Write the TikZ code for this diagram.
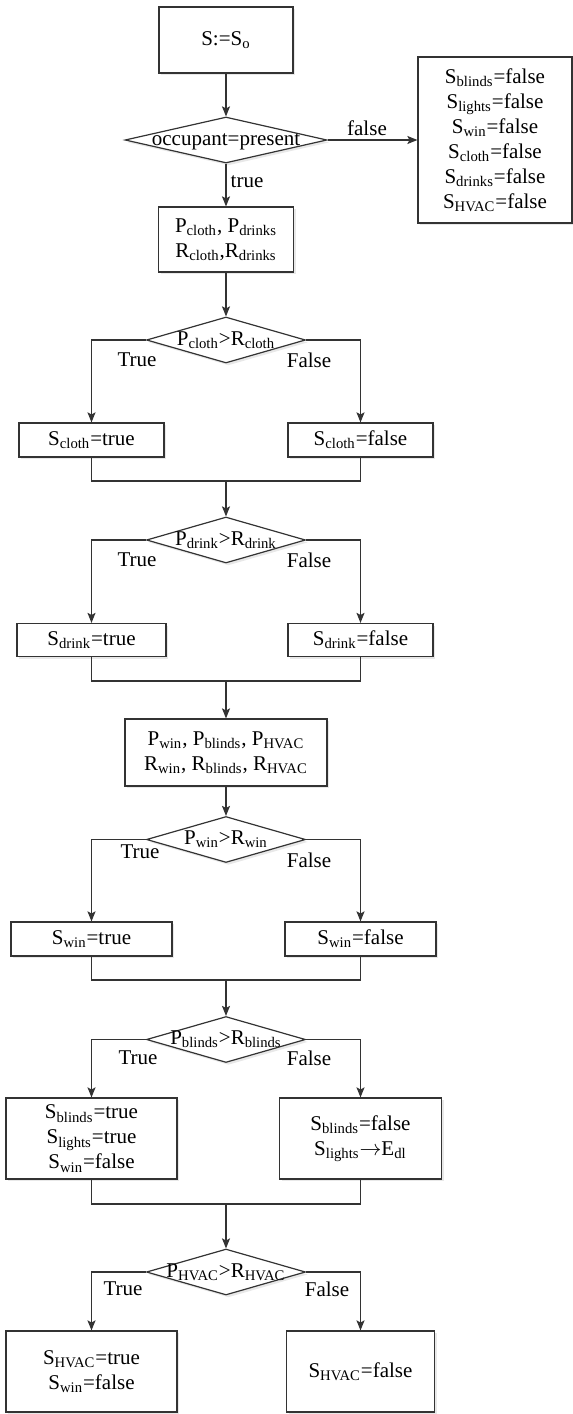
\documentclass[tikz,border=0pt]{standalone}
\usepackage{fontspec}
\setmainfont{Liberation Serif}
\usetikzlibrary{arrows.meta,shapes.geometric,shadows}
\newcommand{\sbs}[1]{\textsubscript{#1}}
\tikzset{
 link/.style={draw=black!80,line width=0.6pt},
 proc/.style={draw=black!80,line width=0.6pt,fill=white,inner sep=0pt,align=center,
  drop shadow={shadow xshift=1.2pt,shadow yshift=-1.2pt,fill=black!18}},
 decide/.style={diamond,draw=black!80,line width=0.6pt,fill=white,inner sep=0pt,
  minimum width=79.5pt,minimum height=23pt,
  drop shadow={shadow xshift=1.2pt,shadow yshift=-1.2pt,fill=black!18}},
 dtxt/.style={inner sep=0pt},
 lbl/.style={inner sep=0pt}
}
\begin{document}
\begin{tikzpicture}[x=0.5pt,y=-0.5pt,>={Stealth[length=5pt,width=4pt,inset=1pt]},
 font=\fontsize{10.5}{12.5}\selectfont]
 \useasboundingbox (0,0) rectangle (573,1414);
 % start and occupancy test
 \node[proc,minimum width=67pt,minimum height=33pt] (start) at (226,40) {S:=S\sbs{o}};
 \node[decide,minimum width=101pt] (occ) at (226,140) {};
 \node[dtxt] (occt) at (226,142) {occupant=present};
 \node[proc,minimum width=77pt,minimum height=83pt] (allf) at (495,140)
  {S\sbs{blinds}=false\\S\sbs{lights}=false\\S\sbs{win}=false\\
   S\sbs{cloth}=false\\S\sbs{drinks}=false\\S\sbs{HVAC}=false};
 \node[proc,minimum width=67.5pt,minimum height=32.5pt] (pcr) at (226,239.5)
  {P\sbs{cloth}, P\sbs{drinks}\\R\sbs{cloth},R\sbs{drinks}};
 \draw[link,->] (start) -- (occ);
 \draw[link,->] (occ) -- (allf);
 \draw[link,->] (occ) -- (pcr);
 \node[lbl] (lf0) at (367,128) {false};
 \node[lbl] (lt0) at (247,182) {true};
 % clothing
 \node[decide] (dcloth) at (226,340) {};
 \node[dtxt] (dclotht) at (226,340) {P\sbs{cloth}>R\sbs{cloth}};
 \node[proc,minimum width=72.5pt,minimum height=17pt] (sct) at (91.5,440) {S\sbs{cloth}=true};
 \node[proc,minimum width=72.5pt,minimum height=17pt] (scf) at (360.5,440) {S\sbs{cloth}=false};
 \coordinate (m1) at (226,481);
 \draw[link,->] (pcr) -- (dcloth);
 \draw[link,->] (dcloth) -| (sct);
 \draw[link,->] (dcloth) -| (scf);
 \draw[link] (sct) |- (m1) -| (scf);
 \node[lbl] (lt1) at (137,360) {True};
 \node[lbl] (lf1) at (309,360) {False};
 % drinks
 \node[decide] (ddrink) at (226,540) {};
 \node[dtxt] (ddrinkt) at (226,540) {P\sbs{drink}>R\sbs{drink}};
 \node[proc,minimum width=74.5pt,minimum height=16.5pt] (sdt) at (91.5,640) {S\sbs{drink}=true};
 \node[proc,minimum width=72.5pt,minimum height=16.5pt] (sdf) at (360.5,640) {S\sbs{drink}=false};
 \coordinate (m2) at (226,681);
 \draw[link,->] (m1) -- (ddrink);
 \draw[link,->] (ddrink) -| (sdt);
 \draw[link,->] (ddrink) -| (sdf);
 \draw[link] (sdt) |- (m2) -| (sdf);
 \node[lbl] (lt2) at (137,560) {True};
 \node[lbl] (lf2) at (309,560) {False};
 % window
 \node[proc,minimum width=101pt,minimum height=33.5pt] (pwr) at (226,752.5)
  {P\sbs{win}, P\sbs{blinds}, P\sbs{HVAC}\\R\sbs{win}, R\sbs{blinds}, R\sbs{HVAC}};
 \node[decide] (dwin) at (226,839.5) {};
 \node[dtxt] (dwint) at (226,839.5) {P\sbs{win}>R\sbs{win}};
 \node[proc,minimum width=80.5pt,minimum height=17pt] (swt) at (91.5,939) {S\sbs{win}=true};
 \node[proc,minimum width=75.5pt,minimum height=17pt] (swf) at (360.5,939) {S\sbs{win}=false};
 \coordinate (m3) at (226,980);
 \draw[link,->] (m2) -- (pwr);
 \draw[link,->] (pwr) -- (dwin);
 \draw[link,->] (dwin) -| (swt);
 \draw[link,->] (dwin) -| (swf);
 \draw[link] (swt) |- (m3) -| (swf);
 \node[lbl] (lt3) at (140,852) {True};
 \node[lbl] (lf3) at (309,860) {False};
 % blinds
 \node[decide] (dblinds) at (226,1039.5) {};
 \node[dtxt] (dblindst) at (226,1039.5) {P\sbs{blinds}>R\sbs{blinds}};
 \node[proc,minimum width=85.5pt,minimum height=40.5pt] (sbt) at (91.5,1138.5)
  {S\sbs{blinds}=true\\S\sbs{lights}=true\\S\sbs{win}=false};
 \node[proc,minimum width=81pt,minimum height=40.5pt] (sbf) at (360.5,1138.5)
  {S\sbs{blinds}=false\\S\sbs{lights}$\rightarrow$E\sbs{dl}};
 \coordinate (m4) at (226,1204);
 \draw[link,->] (m3) -- (dblinds);
 \draw[link,->] (dblinds) -| (sbt);
 \draw[link,->] (dblinds) -| (sbf);
 \draw[link] (sbt) |- (m4) -| (sbf);
 \node[lbl] (lt4) at (138,1058) {True};
 \node[lbl] (lf4) at (309,1058) {False};
 % HVAC
 \node[decide] (dhvac) at (226,1272) {};
 \node[dtxt] (dhvact) at (226,1272) {P\sbs{HVAC}>R\sbs{HVAC}};
 \node[proc,minimum width=85.5pt,minimum height=40.5pt] (sht) at (91.5,1371.5)
  {S\sbs{HVAC}=true\\S\sbs{win}=false};
 \node[proc,minimum width=74pt,minimum height=40.5pt] (shf) at (360.5,1371.5) {S\sbs{HVAC}=false};
 \draw[link,->] (m4) -- (dhvac);
 \draw[link,->] (dhvac) -| (sht);
 \draw[link,->] (dhvac) -| (shf);
 \node[lbl] (lt5) at (123,1289) {True};
 \node[lbl] (lf5) at (327,1289) {False};
\end{tikzpicture}
\end{document}
